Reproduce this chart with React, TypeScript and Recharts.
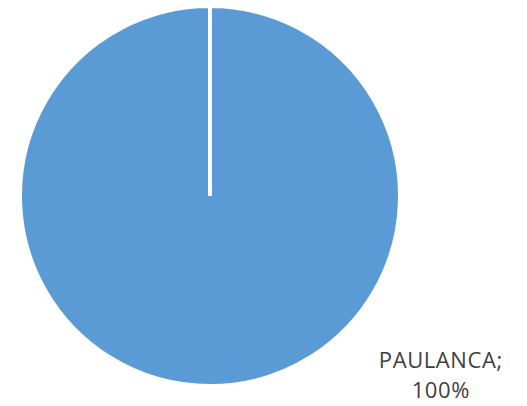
import { Cell, Pie, PieChart } from "recharts";

const brands = ["PAULANCA"];
const shares = [100];

const data = brands.map((name, i) => ({ name, value: shares[i] }));

const SLICE_COLORS = ["#5B9BD5"];

// Excel-style outside label, parked down at the lower right of the pie
function renderLabel(props: any) {
  const { cx, cy, outerRadius, name, percent } = props;
  const x = cx + outerRadius * 1.215;
  const y = cy + outerRadius * 0.905;
  return (
    <text
      x={x}
      y={y}
      textAnchor="middle"
      fill="#404040"
      fontSize={22}
      letterSpacing={0.6}
      fontFamily="'Open Sans', 'Liberation Sans', sans-serif"
    >
      <tspan x={x} dy={0}>{`${name};`}</tspan>
      <tspan x={x} dy={30}>{`${Math.round(percent * 100)}%`}</tspan>
    </text>
  );
}

export default function App() {
  return (
    <div style={{ position: "absolute", left: 0, top: 0, width: 527, height: 406, background: "#fff" }}>
      <PieChart width={527} height={406} margin={{ top: 0, right: 0, bottom: 0, left: 0 }}>
        <Pie
          data={data}
          dataKey="value"
          nameKey="name"
          cx={210}
          cy={196}
          outerRadius={190}
          startAngle={90}
          endAngle={-270}
          stroke="#ffffff"
          strokeWidth={4}
          label={renderLabel}
          labelLine={false}
          isAnimationActive={false}
        >
          {data.map((d, i) => (
            <Cell key={d.name} fill={SLICE_COLORS[i % SLICE_COLORS.length]} />
          ))}
        </Pie>
      </PieChart>
    </div>
  );
}
